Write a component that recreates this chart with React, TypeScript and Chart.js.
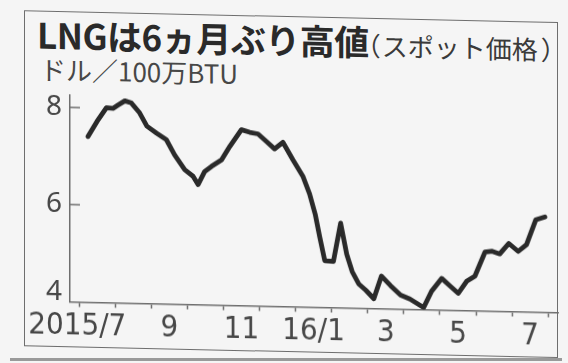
import { useEffect, useRef } from "react";
import { Chart, registerables } from "chart.js";

Chart.register(...registerables);

// Months elapsed since 1 July 2015 for each weekly observation
const monthPos = [
  0.25, 0.53, 0.76, 0.94, 1.08, 1.27, 1.45, 1.68, 1.88, 2.15,
  2.42, 2.65, 2.93, 3.16, 3.3, 3.48, 3.67, 3.95, 4.18, 4.5,
  4.73, 4.96, 5.19, 5.42, 5.65, 5.93, 6.21, 6.39, 6.55, 6.67,
  6.81, 7.05, 7.25, 7.42, 7.57, 7.75, 7.95, 8.17, 8.38, 8.63,
  8.91, 9.17, 9.55, 9.77, 10.05, 10.28, 10.51, 10.74, 10.97, 11.25,
  11.45, 11.66, 11.91, 12.17, 12.4, 12.66, 12.91,
];

// Spot LNG price, dollars per million BTU
const prices = [
  7.41, 7.76, 8.01, 8.0, 8.07, 8.16, 8.12, 7.92, 7.65, 7.51,
  7.38, 7.07, 6.77, 6.64, 6.47, 6.74, 6.85, 6.99, 7.27, 7.62,
  7.57, 7.54, 7.39, 7.24, 7.38, 7.02, 6.68, 6.33, 5.9, 5.45,
  4.96, 4.95, 5.74, 5.1, 4.75, 4.5, 4.37, 4.2, 4.67, 4.48,
  4.29, 4.21, 4.04, 4.38, 4.65, 4.5, 4.35, 4.6, 4.71, 5.21,
  5.23, 5.18, 5.4, 5.24, 5.38, 5.9, 5.96,
];

// Month boundaries (tick marks on the time axis)
const monthTicks = [0, 1, 2, 3, 4, 5, 6, 7, 8, 9, 10, 11, 12, 13];
// Month labels, placed within their month
const labelPos = [-0.05, 2.5, 4.5, 6.5, 8.5, 10.5, 12.5];
const labelText = ["2015/7", "9", "11", "16/1", "3", "5", "7"];

// Price axis
const yTicks = [4, 6, 8];
const yMin = 4;
const yMax = 8.25;

const INK = "#2a2a2a";
const AXIS = "#6e6e6e";
const LABEL = "#474747";
const PAPER = "#f5f5f5";

const innerYTicks = {
  id: "innerYTicks",
  afterDatasetsDraw(chart: any) {
    const { ctx, chartArea, scales } = chart;
    ctx.save();
    ctx.strokeStyle = AXIS;
    ctx.lineWidth = 1.5;
    for (const v of yTicks) {
      if (v === yMin) continue;
      const y = scales.y.getPixelForValue(v);
      ctx.beginPath();
      ctx.moveTo(chartArea.left, y);
      ctx.lineTo(chartArea.left + 10, y);
      ctx.stroke();
    }
    ctx.restore();
  },
};

function LngChart() {
  const ref = useRef<HTMLCanvasElement | null>(null);

  useEffect(() => {
    if (!ref.current) return;
    const chart = new Chart(ref.current, {
      type: "line",
      data: {
        datasets: [
          {
            data: monthPos.map((m, i) => ({ x: m, y: prices[i] })),
            borderColor: INK,
            borderWidth: 4.8,
            borderJoinStyle: "round",
            borderCapStyle: "round",
            pointRadius: 0,
            tension: 0,
            fill: false,
          },
        ],
      },
      options: {
        animation: false,
        responsive: false,
        devicePixelRatio: 1,
        layout: { padding: { left: 24, right: 10, top: 100, bottom: 16.5 } },
        plugins: {
          legend: { display: false },
          tooltip: { enabled: false },
          title: { display: false },
        },
        scales: {
          x: {
            type: "linear",
            min: -0.25,
            max: 13.27,
            afterBuildTicks: (s: any) => {
              s.ticks = [...monthTicks, ...labelPos]
                .sort((a, b) => a - b)
                .map((v) => ({ value: v }));
            },
            afterFit: (s: any) => {
              s.height = 40;
            },
            ticks: {
              autoSkip: false,
              maxRotation: 0,
              minRotation: 0,
              padding: 1,
              color: LABEL,
              font: {
                family: "'Liberation Sans Narrow', 'DejaVu Sans Condensed', 'Noto Sans', sans-serif",
                size: 31,
              },
              callback: (v: any) => {
                const i = labelPos.indexOf(Number(v));
                return i >= 0 ? labelText[i] : "";
              },
            },
            grid: {
              drawOnChartArea: false,
              drawTicks: true,
              tickLength: 5,
              tickWidth: 1.5,
              tickColor: (c: any) =>
                c.tick && monthTicks.includes(c.tick.value) ? AXIS : "rgba(0,0,0,0)",
            },
            border: { color: AXIS, width: 1.5 },
          },
          y: {
            min: yMin,
            max: yMax,
            afterBuildTicks: (s: any) => {
              s.ticks = yTicks.map((v) => ({ value: v }));
            },
            afterFit: (s: any) => {
              s.width = 46;
            },
            ticks: {
              padding: 8,
              color: LABEL,
              font: (c: any) =>
                c.tick && c.tick.value === yMin
                  ? { family: "'Noto Sans', sans-serif", size: 28, lineHeight: "18px" }
                  : { family: "'Noto Sans', sans-serif", size: 28 },
              callback: (v: any) => (Number(v) === yMin ? [String(v), ""] : String(v)),
            },
            grid: { drawOnChartArea: false, drawTicks: false },
            border: { color: AXIS, width: 1.5 },
          },
        },
      },
      plugins: [innerYTicks],
    } as any);
    return () => chart.destroy();
  }, []);

  return (
    <canvas
      ref={ref}
      width={568}
      height={363}
      style={{ position: "absolute", left: 0, top: 0, width: 568, height: 363 }}
    />
  );
}

export default function App() {
  return (
    <div
      style={{
        position: "fixed",
        left: 0,
        top: 0,
        width: 568,
        height: 363,
        background: PAPER,
        overflow: "hidden",
      }}
    >
      <div
        style={{
          position: "absolute",
          left: 0,
          top: 0,
          width: 568,
          height: 363,
          transform: "skewY(1.26deg)",
          transformOrigin: "284px 181.5px",
        }}
      >
        <div
          style={{
            position: "absolute",
            left: 24,
            top: 16,
            width: 534,
            height: 336,
            boxSizing: "border-box",
            border: `1.5px solid ${AXIS}`,
          }}
        />
        <div
          style={{
            position: "absolute",
            left: 37,
            top: 21,
            whiteSpace: "nowrap",
            fontFamily: "'Noto Sans CJK JP', sans-serif",
            fontSize: 35,
            lineHeight: "35px",
            fontWeight: 700,
            color: INK,
            letterSpacing: "-0.5px",
          }}
        >
          LNGは6ヵ月ぶり高値
          <span style={{ fontSize: 26, fontWeight: 400, color: "#3a3a3a", letterSpacing: 0 }}>
            <span style={{ marginLeft: -14, marginRight: 1 }}>（</span>
            スポット価格
            <span style={{ marginLeft: 3 }}>）</span>
          </span>
        </div>
        <div
          style={{
            position: "absolute",
            left: 40,
            top: 61,
            whiteSpace: "nowrap",
            fontFamily: "'Noto Sans CJK JP', sans-serif",
            fontSize: 26,
            lineHeight: "26px",
            color: LABEL,
          }}
        >
          ドル／100万BTU
        </div>
        <LngChart />
      </div>
      <div
        style={{
          position: "absolute",
          left: 10,
          top: 358,
          width: 552,
          height: 3,
          background: "#9a9a9a",
        }}
      />
    </div>
  );
}
